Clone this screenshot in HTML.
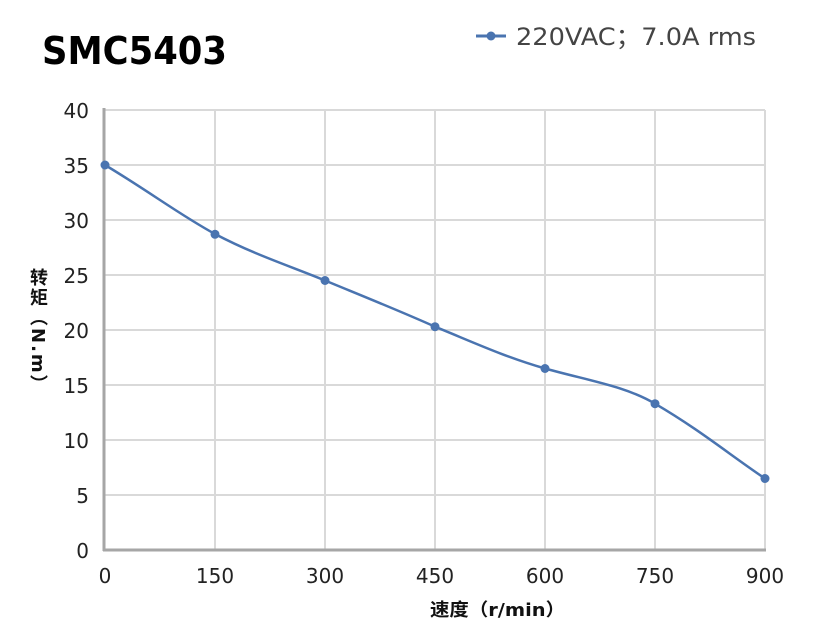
<!DOCTYPE html>
<html><head><meta charset="utf-8"><style>
body{margin:0;background:#fff;width:831px;height:640px;overflow:hidden;font-family:"DejaVu Sans","Noto Sans CJK SC",sans-serif;}
</style></head><body>
<svg width="831" height="640" xmlns="http://www.w3.org/2000/svg" style="position:absolute;left:0;top:0">
<text x="42" y="64" font-size="38" font-weight="bold" font-family="DejaVu Sans, sans-serif" fill="#000" textLength="185" lengthAdjust="spacingAndGlyphs">SMC5403</text>
<line x1="476" y1="36" x2="506" y2="36" stroke="#4a74b0" stroke-width="3"/>
<circle cx="491" cy="36" r="4.5" fill="#4a74b0"/>
<text x="516" y="45" font-size="24" fill="#444" font-family="DejaVu Sans, Noto Sans CJK SC, sans-serif" textLength="240" lengthAdjust="spacingAndGlyphs">220VAC；7.0A rms</text>
<g stroke="#d9d9d9" stroke-width="2">
<line x1="105" y1="110" x2="765" y2="110"/><line x1="105" y1="165" x2="765" y2="165"/><line x1="105" y1="220" x2="765" y2="220"/><line x1="105" y1="275" x2="765" y2="275"/><line x1="105" y1="330" x2="765" y2="330"/><line x1="105" y1="385" x2="765" y2="385"/><line x1="105" y1="440" x2="765" y2="440"/><line x1="105" y1="495" x2="765" y2="495"/>
<line x1="215" y1="110" x2="215" y2="550"/><line x1="325" y1="110" x2="325" y2="550"/><line x1="435" y1="110" x2="435" y2="550"/><line x1="545" y1="110" x2="545" y2="550"/><line x1="655" y1="110" x2="655" y2="550"/><line x1="765" y1="110" x2="765" y2="550"/>
</g>
<line x1="104" y1="108" x2="104" y2="551" stroke="#a6a6a6" stroke-width="3"/>
<line x1="103" y1="550" x2="766" y2="550" stroke="#a6a6a6" stroke-width="3"/>
<g font-size="20" fill="#222" text-anchor="end" font-family="DejaVu Sans, sans-serif">
<text x="89" y="118">40</text><text x="89" y="173">35</text><text x="89" y="228">30</text><text x="89" y="283">25</text><text x="89" y="338">20</text><text x="89" y="393">15</text><text x="89" y="448">10</text><text x="89" y="503">5</text><text x="89" y="558">0</text>
</g>
<g font-size="20" fill="#222" text-anchor="middle" font-family="DejaVu Sans, sans-serif">
<text x="105" y="583">0</text><text x="215" y="583">150</text><text x="325" y="583">300</text><text x="435" y="583">450</text><text x="545" y="583">600</text><text x="655" y="583">750</text><text x="765" y="583">900</text>
</g>
<text x="430" y="616" font-size="18" font-weight="bold" fill="#111" textLength="135" lengthAdjust="spacingAndGlyphs">速度（r/min）</text>
<path d="M105,165 C150,192 180,215 215,234 C255,255 290,266 325,280.5 C365,297 400,311 435,326.7 C475,343 505,357 545,368.5 C590,381 625,386 655,403.7 C700,430 730,455 765,478.5" fill="none" stroke="#4a74b0" stroke-width="2.5"/>
<g fill="#4a74b0">
<circle cx="105" cy="165" r="4.5"/><circle cx="215" cy="234.3" r="4.5"/><circle cx="325" cy="280.5" r="4.5"/><circle cx="435" cy="326.7" r="4.5"/><circle cx="545" cy="368.5" r="4.5"/><circle cx="655" cy="403.7" r="4.5"/><circle cx="765" cy="478.5" r="4.5"/>
</g>
</svg>
<div style="position:absolute;left:27px;top:268px;writing-mode:vertical-rl;font-size:18px;font-weight:bold;color:#111;line-height:20px;letter-spacing:2px;font-family:'DejaVu Sans','Noto Sans CJK SC',sans-serif;">转矩（N.m）</div>
</body></html>
